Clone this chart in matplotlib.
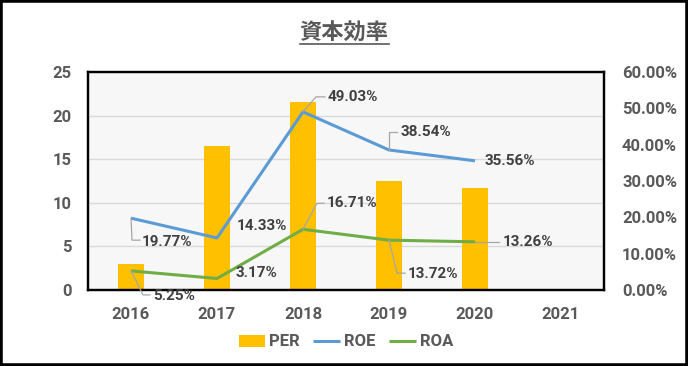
import matplotlib
matplotlib.use("Agg")
import matplotlib.pyplot as plt
from matplotlib.patches import Rectangle
from matplotlib.lines import Line2D
from matplotlib.ticker import FuncFormatter
import numpy as np

plt.rcParams['font.family'] = ['Roboto', 'Noto Sans CJK JP', 'DejaVu Sans']

title = "資本効率"
years = ["2016", "2017", "2018", "2019", "2020", "2021"]
per = [3.0, 16.5, 21.6, 12.5, 11.7]
roe = [19.77, 14.33, 49.03, 38.54, 35.56]
roa = [5.25, 3.17, 16.71, 13.72, 13.26]
left_ticks = [0, 5, 10, 15, 20, 25]
right_ticks = [0, 10, 20, 30, 40, 50, 60]

TXT = "#595959"
LBL = "#404040"
LEAD = "#A6A6A6"

fig = plt.figure(figsize=(6.88, 3.66), dpi=100)
ax = fig.add_axes([88/688, 1-290/366, 516/688, 218/366])
ax.set_facecolor("#F7F7F7")
x = np.arange(len(years))
ax.bar(x[:len(per)], per, width=0.3, color="#FFC000", zorder=2, label="PER")
ax.set_xlim(-0.5, len(years)-0.5)
ax.set_ylim(0, 25)
ax.set_yticks(left_ticks)
ax.set_xticks(x)
ax.set_xticklabels(years)
for yv in left_ticks[1:-1]:
    ax.axhline(yv, color="#D9D9D9", lw=1, zorder=1)
ax.tick_params(axis='both', length=0, labelsize=12, labelcolor=TXT)
ax.tick_params(axis='x', pad=12)
ax.tick_params(axis='y', pad=12)
for lab in ax.get_xticklabels() + ax.get_yticklabels():
    lab.set_fontweight('bold')
for s in ax.spines.values():
    s.set_color("black"); s.set_linewidth(1.6)

ax2 = ax.twinx()
ax2.set_ylim(0, 60)
ax2.set_yticks(right_ticks)
ax2.yaxis.set_major_formatter(FuncFormatter(lambda v, p: f"{v:.2f}%"))
ax2.tick_params(axis='y', length=0, labelsize=12, labelcolor=TXT, pad=13)
for lab in ax2.get_yticklabels():
    lab.set_fontweight('bold')
for s in ax2.spines.values():
    s.set_color("black"); s.set_linewidth(1.6)
ax2.plot(x[:len(roe)], roe, color="#5B9BD5", lw=2.2, zorder=3, label="ROE", solid_capstyle='butt')
ax2.plot(x[:len(roa)], roa, color="#70AD47", lw=2.2, zorder=3, label="ROA", solid_capstyle='butt')

# data labels: (text dx, dy in pixels), leader vertices in pixels
roe_lbl = [((11, -24), [(0, 0), (1, -22), (9, -22)]),
           ((20, 12), None),
           ((25, 15), [(0, 0), (13, 15), (22, 15)]),
           ((12, 18), [(0, 0), (0, 18), (8, 18)]),
           ((10, 0), None)]
roa_lbl = [((22, -25), [(0, 0), (12, -24), (19, -24)]),
           ((19, 5), None),
           ((24, 26), [(0, 0), (14, 26), (21, 26)]),
           ((19, -34), [(0, 0), (8, -33), (16, -33)]),
           ((28, 0), [(0, 0), (24, 0)])]

for series, specs in ((roe, roe_lbl), (roa, roa_lbl)):
    for i, (v, (off, lead)) in enumerate(zip(series, specs)):
        ax2.annotate(f"{v:.2f}%", xy=(x[i], v), xytext=off, textcoords='offset pixels',
                     ha='left', va='center', fontsize=11, fontweight='bold', color=LBL,
                     zorder=5, annotation_clip=False)
        if lead:
            px, py = ax2.transData.transform((x[i], v))
            xs = [px + d[0] for d in lead]
            ys = [py + d[1] for d in lead]
            fig.add_artist(Line2D(xs, ys, transform=None, color=LEAD, lw=0.9, zorder=4))

# legend
h1, l1 = ax.get_legend_handles_labels()
h2, l2 = ax2.get_legend_handles_labels()
leg = fig.legend(h1 + h2, l1 + l2, loc='center', bbox_to_anchor=(346/688, 1-342/366),
                 ncol=3, frameon=False, fontsize=12, handlelength=1.6, handletextpad=0.25,
                 columnspacing=0.8, handleheight=0.7)
for t in leg.get_texts():
    t.set_color(TXT); t.set_fontweight('bold')

# title with underline
tt = fig.text(344/688, 1-33/366, title, ha='center', va='center', fontsize=16,
              fontweight='bold', color=TXT, family=['Noto Sans CJK JP', 'DejaVu Sans'])
fig.canvas.draw()
bb = tt.get_window_extent()
fig.add_artist(Line2D([bb.x0, bb.x1], [366-44, 366-44], transform=None, color=TXT, lw=1.2))

fig.patches.append(Rectangle((0, 0), 1, 1, transform=fig.transFigure, fill=False,
                             ec='black', lw=4))
fig.savefig("out.png", dpi=100)
